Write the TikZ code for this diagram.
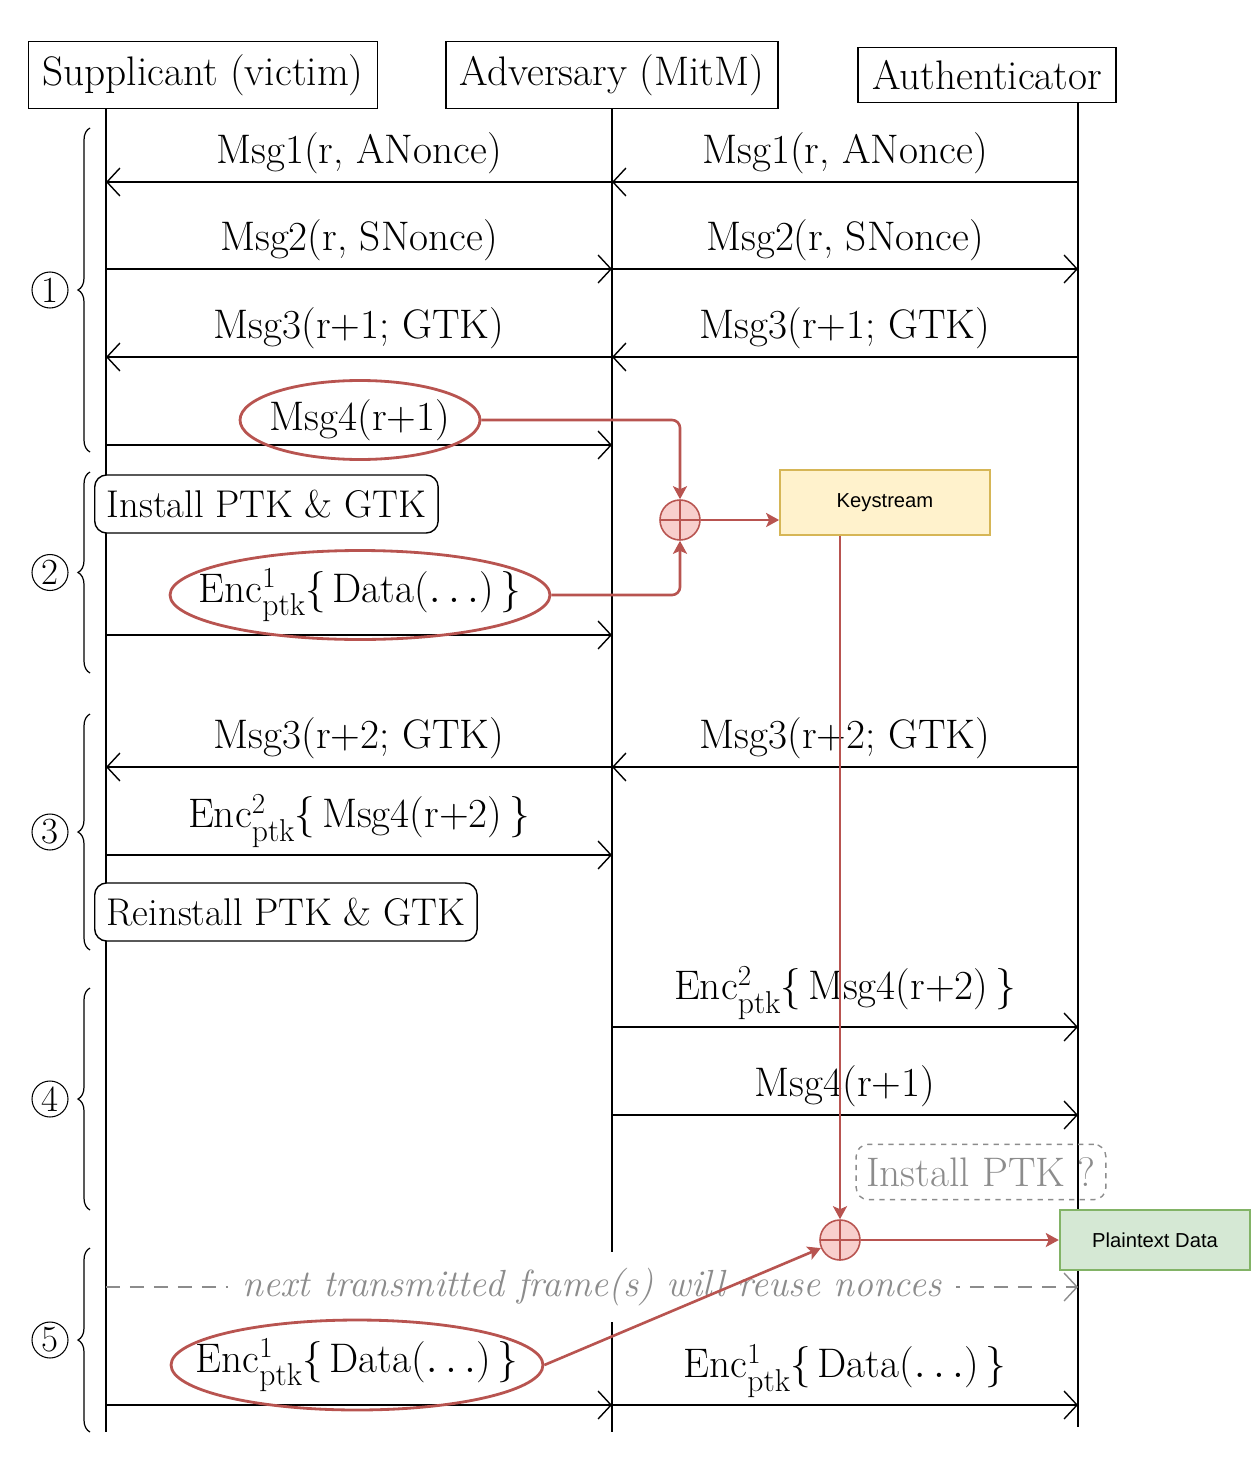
\documentclass[tikz,border=0pt]{standalone}
\usepackage{fontspec}
\newfontfamily\drawiofont{Liberation Sans}
\usetikzlibrary{arrows.meta,shapes.geometric,decorations.pathreplacing,positioning}
\definecolor{xorred}{HTML}{B85450}
\definecolor{xorfill}{HTML}{F8CECC}
\definecolor{ksfill}{HTML}{FFF2CC}
\definecolor{ksdraw}{HTML}{D6B656}
\definecolor{ptfill}{HTML}{D5E8D4}
\definecolor{ptdraw}{HTML}{82B366}
\definecolor{noncegray}{HTML}{8C8C8C}
\newcommand{\encptk}[1]{Enc\rlap{\raisebox{0.36em}{\fontsize{16.5}{16}\selectfont #1}}\raisebox{-0.32em}{\fontsize{18}{18}\selectfont ptk}}
\begin{document}
\begin{tikzpicture}[x=0.02cm, y=-0.02cm,
    every node/.style={font=\fontsize{23.5}{27}\selectfont},
    party/.style={draw, line width=0.8pt, inner xsep=0.28cm, inner ysep=0.26cm},
    life/.style={line width=0.8pt},
    msg/.style={line width=0.8pt, -{Straight Barb[length=0.26cm, width=0.56cm]}},
    lbl/.style={above=0.14cm, inner sep=0pt},
    keystate/.style={draw, fill=white, rounded corners=0.24cm, line width=0.8pt, anchor=west, inner xsep=0.24cm, inner ysep=0.3cm, font=\fontsize{22}{26}\selectfont},
    hl/.style={ellipse, draw=xorred, line width=1.6pt, inner sep=0pt},
    phase/.style={circle, draw, line width=0.6pt, minimum size=0.72cm, inner sep=0pt, font=\fontsize{21}{22}\selectfont},
    phasebrace/.style={decorate, decoration={brace, amplitude=0.24cm}, line width=0.7pt},
    nonce/.style={draw=noncegray, line width=0.8pt, dash pattern=on 0.28cm off 0.2cm, -{Straight Barb[length=0.26cm, width=0.56cm]}},
    xorop/.style={circle, draw=xorred, fill=xorfill, line width=0.9pt, minimum size=0.8cm, inner sep=0pt,
      path picture={\draw[xorred, line width=0.9pt] (path picture bounding box.north) -- (path picture bounding box.south)
        (path picture bounding box.west) -- (path picture bounding box.east);}},
    flow/.style={draw=xorred, line width=1.5pt, rounded corners=0.16cm, -{Stealth[length=0.26cm, width=0.28cm, inset=0.06cm]}},
    drawio/.style={font=\drawiofont\fontsize{11.5}{13}\selectfont}
  ]
\useasboundingbox (0,0) rectangle (1252,1463);

% parties
\node[party] (sup) at (203,75) {Supplicant (victim)};
\node[party] (adv) at (612,75) {Adversary (MitM)};
\node[party] (auth) at (987,75) {Authenticator};

% message rows
\foreach \r/\y in {1/182,2/269,3/357,4/445,5/635,6/767,7/855,8/1027,9/1115,10/1287,11/1405} {
  \coordinate (s\r) at (106,\y);
  \coordinate (a\r) at (612,\y);
  \coordinate (t\r) at (1078,\y);
}
\coordinate (sEnd) at (106,1432);
\coordinate (aEnd) at (612,1432);
\coordinate (tEnd) at (1078,1427);

% lifelines
\draw[life] (sup.south -| s1) -- (sEnd);
\draw[life] (adv.south) -- (aEnd);
\draw[life] (auth.south -| t1) -- (tEnd);

% phases
\foreach \p/\ya/\yb in {1/128/452,2/472/673,3/714/950,4/988/1210,5/1248/1432} {
  \draw[phasebrace] (90,\yb) -- (90,\ya);
  \node[phase] (p\p) at (50,{(\ya+\yb)/2}) {\p};
}

% handshake
\draw[msg] (t1) -- node[lbl]{Msg1(r, ANonce)} (a1);
\draw[msg] (a1) -- node[lbl]{Msg1(r, ANonce)} (s1);
\draw[msg] (s2) -- node[lbl]{Msg2(r, SNonce)} (a2);
\draw[msg] (a2) -- node[lbl]{Msg2(r, SNonce)} (t2);
\draw[msg] (t3) -- node[lbl]{Msg3(r+1; GTK)} (a3);
\draw[msg] (a3) -- node[lbl]{Msg3(r+1; GTK)} (s3);
\draw[msg] (s4) -- (a4);
\node[keystate] (inst) at (94,504) {Install PTK \& GTK};
\draw[msg] (s5) -- (a5);
\draw[msg] (t6) -- node[lbl]{Msg3(r+2; GTK)} (a6);
\draw[msg] (a6) -- node[lbl]{Msg3(r+2; GTK)} (s6);
\draw[msg] (s7) -- node[lbl]{\encptk{2}\{\,Msg4(r+2)\,\}} (a7);
\node[keystate] (reinst) at (94,912) {Reinstall PTK \& GTK};
\draw[msg] (a8) -- node[lbl]{\encptk{2}\{\,Msg4(r+2)\,\}} (t8);
\draw[msg] (a9) -- node[lbl]{Msg4(r+1)} (t9);
\node[draw=noncegray, text=noncegray, dashed, rounded corners=0.24cm, line width=0.8pt, inner xsep=0.2cm, inner ysep=0.26cm] (inst2) at (981,1172) {Install PTK ?};
\draw[nonce] (s10) -- node[fill=white, text=noncegray, inner xsep=0.3cm, minimum height=1.4cm, font=\fontsize{21.5}{25}\selectfont\itshape]{next transmitted frame(s) will reuse nonces} (t10);
\draw[msg] (s11) -- (a11);
\draw[msg] (a11) -- node[lbl]{\encptk{1}\{\,Data($\ldots$)\,\}} (t11);

% reused keystream
\node[hl, minimum width=4.8cm, minimum height=1.58cm, label=center:{Msg4(r+1)}] (m4) at (360,420) {};
\node[hl, minimum width=7.6cm, minimum height=1.78cm, label=center:{\encptk{1}\{\,Data($\ldots$)\,\}}] (d1) at (360,595) {};
\node[hl, minimum width=7.44cm, minimum height=1.8cm, label=center:{\encptk{1}\{\,Data($\ldots$)\,\}}] (d2) at (357,1365) {};
\node[xorop] (xor1) at (680,520) {};
\node[xorop] (xor2) at (840,1240) {};
\node[drawio, draw=ksdraw, fill=ksfill, line width=1pt, minimum width=4.2cm, minimum height=1.3cm] (ks) at (885,502.5) {Keystream};
\node[drawio, draw=ptdraw, fill=ptfill, line width=1.4pt, minimum width=3.8cm, minimum height=1.2cm] (pt) at (1155,1240) {Plaintext Data};
\draw[flow] (m4.east) -| (xor1.north);
\draw[flow] (d1.east) -| (xor1.south);
\draw[flow] (xor1.east) -- (xor1.east -| ks.west);
\draw[flow] (ks.south -| xor2) -- (xor2.north);
\draw[flow] (d2.east) -- (xor2);
\draw[flow] (xor2.east) -- (pt.west);
\end{tikzpicture}
\end{document}
